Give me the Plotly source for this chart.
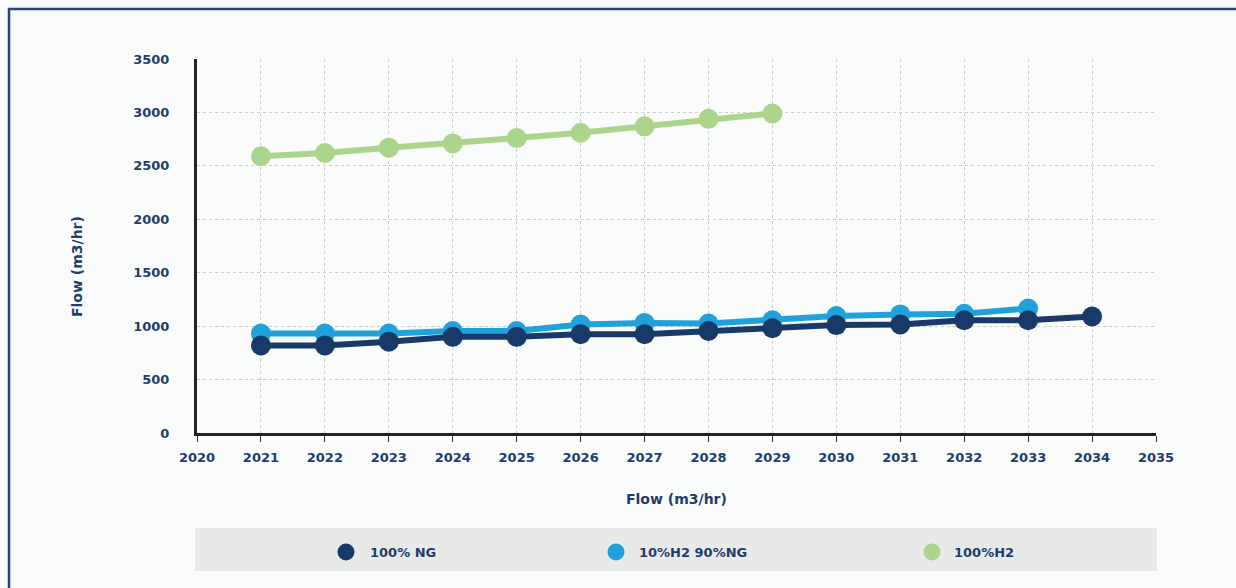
import plotly.graph_objects as go

years_ng = [2021, 2022, 2023, 2024, 2025, 2026, 2027, 2028, 2029, 2030, 2031, 2032, 2033, 2034]
ng_100 = [820, 820, 855, 900, 900, 925, 925, 955, 980, 1010, 1015, 1055, 1055, 1090]

years_mix = [2021, 2022, 2023, 2024, 2025, 2026, 2027, 2028, 2029, 2030, 2031, 2032, 2033]
h2_10_ng_90 = [930, 930, 930, 955, 955, 1015, 1030, 1025, 1055, 1095, 1110, 1115, 1165]

years_h2 = [2021, 2022, 2023, 2024, 2025, 2026, 2027, 2028, 2029]
h2_100 = [2590, 2620, 2670, 2710, 2760, 2810, 2870, 2940, 2990]

series_names = ["100% NG", "10%H2 90%NG", "100%H2"]
colors = ["#173a68", "#1fa2db", "#acd58c"]

NAVY = "#1f3d6d"
FONT = "DejaVu Sans"
W, H = 1236, 588
L, R, T, B = 197, 80, 59, 155
PW, PH = W - L - R, H - T - B


def px(x):
    return (x - L) / PW


def py(y):
    return (H - B - y) / PH


fig = go.Figure()
for xs, ys, name, col in [
    (years_h2, h2_100, series_names[2], colors[2]),
    (years_mix, h2_10_ng_90, series_names[1], colors[1]),
    (years_ng, ng_100, series_names[0], colors[0]),
]:
    fig.add_trace(go.Scatter(
        x=xs, y=ys, name=name, mode="lines+markers",
        line=dict(color=col, width=6),
        marker=dict(color=col, size=20),
        showlegend=False, hoverinfo="skip",
    ))

shapes = [
    # outer frame
    dict(type="rect", xref="paper", yref="paper",
         x0=px(9), x1=px(1245), y0=py(9), y1=py(600),
         line=dict(color="#24477a", width=2.5), layer="below"),
    # legend box
    dict(type="rect", xref="paper", yref="paper",
         x0=px(195), x1=px(1157), y0=py(528), y1=py(571),
         fillcolor="#e8e9e9", line=dict(width=0), layer="below"),
]
annotations = []
leg_marker_x = [346, 616, 932]
leg_text_x = [368, 637, 952]
for mx, tx, name, col in zip(leg_marker_x, leg_text_x, series_names, colors):
    shapes.append(dict(type="circle", xref="paper", yref="paper",
                       xsizemode="pixel", ysizemode="pixel",
                       xanchor=px(mx), yanchor=py(552),
                       x0=-8.5, x1=8.5, y0=-8.5, y1=8.5,
                       fillcolor=col, line=dict(width=0)))
    annotations.append(dict(x=px(tx), y=py(552), xref="paper", yref="paper",
                            text="<b>" + name + "</b>", showarrow=False,
                            xanchor="left", yanchor="middle",
                            font=dict(family=FONT, size=13, color=NAVY)))

annotations.append(dict(x=px(676), y=py(499), xref="paper", yref="paper",
                        text="<b>Flow (m3/hr)</b>", showarrow=False,
                        xanchor="center", yanchor="middle",
                        font=dict(family=FONT, size=14, color=NAVY)))
annotations.append(dict(x=px(77), y=py(266), xref="paper", yref="paper",
                        text="<b>Flow (m3/hr)</b>", showarrow=False, textangle=-90,
                        xanchor="center", yanchor="middle",
                        font=dict(family=FONT, size=14, color=NAVY)))

fig.update_layout(
    width=W, height=H,
    margin=dict(l=L, r=R, t=T, b=B, pad=0),
    paper_bgcolor="#fafbfb", plot_bgcolor="#fafbfb",
    shapes=shapes, annotations=annotations,
    showlegend=False,
    font=dict(family=FONT, color=NAVY),
)
fig.update_xaxes(
    range=[2020, 2035], tick0=2020, dtick=1,
    showline=True, linewidth=3, linecolor="#222222",
    showgrid=True, gridcolor="#cdcdcd", griddash="dot", gridwidth=1,
    zeroline=False,
    ticks="outside", ticklen=6, tickwidth=1, tickcolor="#333333",
    ticklabelstandoff=4,
    tickfont=dict(family=FONT, size=13, color=NAVY, weight="bold"),
)
fig.update_yaxes(
    range=[0, 3500], tick0=0, dtick=500,
    showline=True, linewidth=3, linecolor="#222222",
    showgrid=True, gridcolor="#cdcdcd", griddash="dot", gridwidth=1,
    zeroline=False, ticks="", ticklabelstandoff=22,
    tickfont=dict(family=FONT, size=13, color=NAVY, weight="bold"),
)

fig.write_html("out.html")
